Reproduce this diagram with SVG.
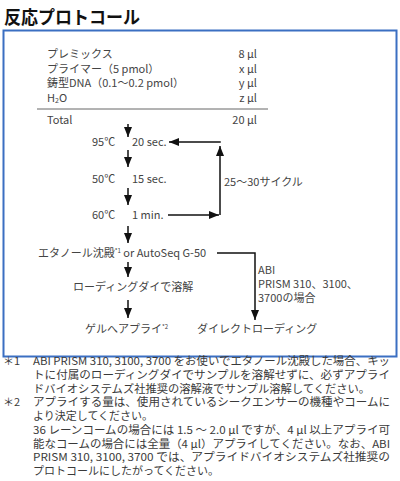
<svg xmlns="http://www.w3.org/2000/svg" width="400" height="481" viewBox="0 0 400 481">
<style>
text{font-family:"Noto Sans CJK JP","Noto Sans",sans-serif;fill:#444;font-size:11px}
.t{font-size:18px;font-weight:bold;fill:#111}
.fn{font-size:11px;fill:#3a3a3a}
.r{text-anchor:end}
.ln{stroke:#111;stroke-width:1.5;fill:none}
</style>
<defs>
<marker id="ar" viewBox="0 0 10 8" refX="10" refY="4" markerWidth="10" markerHeight="8" markerUnits="userSpaceOnUse" orient="auto"><path d="M0 0L10 4L0 8Z" fill="#111"/></marker>
</defs>
<rect width="400" height="481" fill="#fff"/>
<text class="t" x="4" y="24" textLength="136" lengthAdjust="spacingAndGlyphs">反応プロトコール</text>
<rect x="3.5" y="30.5" width="393" height="326" fill="none" stroke="#3b6fc2" stroke-width="2"/>

<g id="mix">
<text x="47" y="58">プレミックス</text><text class="r" x="257" y="58">8 µl</text>
<text x="47" y="73">プライマー（5 pmol）</text><text class="r" x="257" y="73">x µl</text>
<text x="47" y="87">鋳型DNA（0.1～0.2 pmol）</text><text class="r" x="257" y="87">y µl</text>
<text x="47" y="102">H<tspan font-size="7" dy="1">2</tspan><tspan dy="-1">O</tspan></text><text class="r" x="257" y="102">z µl</text>
<line x1="37" y1="109" x2="268" y2="109" stroke="#666" stroke-width="1"/>
<text x="47" y="124">Total</text><text class="r" x="257" y="124">20 µl</text>
</g>
<g id="s95"><text x="92" y="146">95℃</text><text x="132" y="146">20 sec.</text></g>
<g id="s50"><text x="92" y="183">50℃</text><text x="132" y="183">15 sec.</text></g>
<g id="s60"><text x="92" y="219">60℃</text><text x="132" y="219">1 min.</text></g>
<g id="cycle"><text x="224" y="186">25～30サイクル</text></g>
<g id="purify"><text x="38" y="257">エタノール沈殿<tspan font-size="6" dy="-4">*1</tspan><tspan dy="4"> or AutoSeq G-50</tspan></text></g>
<g id="abi"><text x="258" y="274" font-size="10.5">ABI</text><text x="258" y="288" font-size="10.5">PRISM 310、3100、</text><text x="258" y="302" font-size="10.5">3700の場合</text></g>
<g id="dissolve"><text x="73" y="291">ローディングダイで溶解</text></g>
<g id="apply"><text x="85" y="333">ゲルへアプライ<tspan font-size="6" dy="-4">*2</tspan></text></g>
<g id="direct"><text x="197" y="333">ダイレクトローディング</text></g>

<g id="connectors">
<path class="ln" d="M128 124V137" marker-end="url(#ar)"/>
<path class="ln" d="M128 150V167" marker-end="url(#ar)"/>
<path class="ln" d="M128 188V205" marker-end="url(#ar)"/>
<path class="ln" d="M128 226V243" marker-end="url(#ar)"/>
<path class="ln" d="M128 262V277" marker-end="url(#ar)"/>
<path class="ln" d="M128 300V318" marker-end="url(#ar)"/>
<path class="ln" d="M168 215H219" marker-end="url(#ar)"/>
<path class="ln" d="M220 215V146" marker-end="url(#ar)"/>
<path class="ln" d="M220 142.7V142H169" marker-end="url(#ar)"/>
<path class="ln" d="M217 253H255V320" marker-end="url(#ar)"/>
</g>

<g id="notes">
<text class="fn" x="3" y="365">＊1</text>
<text class="fn" x="33" y="365" textLength="357" lengthAdjust="spacingAndGlyphs">ABI PRISM 310, 3100, 3700 をお使いでエタノール沈殿した場合、キッ</text>
<text class="fn" x="33" y="379" textLength="357" lengthAdjust="spacingAndGlyphs">トに付属のローディングダイでサンプルを溶解せずに、必ずアプライ</text>
<text class="fn" x="33" y="392.5" textLength="337" lengthAdjust="spacingAndGlyphs">ドバイオシステムズ社推奨の溶解液でサンプル溶解してください。</text>
<text class="fn" x="3" y="406">＊2</text>
<text class="fn" x="33" y="406" textLength="357" lengthAdjust="spacingAndGlyphs">アプライする量は、使用されているシークエンサーの機種やコームに</text>
<text class="fn" x="33" y="420">より決定してください。</text>
<text class="fn" x="33" y="434" textLength="357" lengthAdjust="spacingAndGlyphs">36 レーンコームの場合には 1.5 ～ 2.0 µl ですが、4 µl 以上アプライ可</text>
<text class="fn" x="33" y="447.5" textLength="357" lengthAdjust="spacingAndGlyphs">能なコームの場合には全量（4 µl）アプライしてください。なお、ABI</text>
<text class="fn" x="33" y="461" textLength="357" lengthAdjust="spacingAndGlyphs">PRISM 310, 3100, 3700 では、アプライドバイオシステムズ社推奨の</text>
<text class="fn" x="33" y="475">プロトコールにしたがってください。</text>
</g>
</svg>
